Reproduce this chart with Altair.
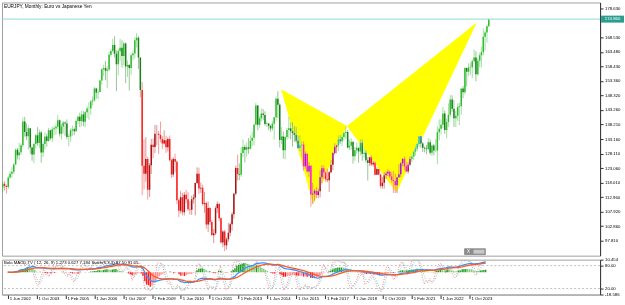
import altair as alt
import pandas as pd
import numpy as np

# ---------------- data (EURJPY monthly, Jun 2002 - Jul 2024) ----------------
FIRST_OPEN = 116.3
CLOSE = [
    117.6, 116.8, 116.5, 119.8, 121.1, 121.8, 124.3,
    129.4, 127.5, 128.6, 131.0, 139.3, 135.6, 134.1, 136.9, 130.2, 127.8, 131.4, 134.5,
    131.8, 135.4, 128.5, 131.4, 134.0, 132.5, 136.2, 133.4, 136.6, 136.9, 137.4, 139.7,
    135.0, 137.5, 138.9, 138.6, 133.9, 134.0, 136.2, 136.6, 135.9, 139.4, 140.9, 139.4,
    141.7, 139.2, 142.5, 143.8, 143.8, 146.2, 146.6, 150.7, 149.3, 149.5, 153.5, 157.4,
    157.9, 156.9, 157.3, 162.5, 163.8, 165.9, 162.8, 159.2, 163.7, 164.9, 162.0, 166.4,
    158.4, 158.9, 157.9, 162.3, 162.9, 167.5, 168.4, 161.5, 150.2, 123.9, 121.1, 126.2,
    115.5, 124.0, 131.2, 130.4, 135.0, 135.0, 134.6, 133.2, 131.6, 132.7, 130.3, 133.2,
    125.8, 120.8, 126.2, 125.3, 111.9, 108.2, 112.9, 107.7, 113.8, 112.2, 108.7, 108.6,
    112.2, 112.8, 117.9, 121.1, 116.0, 116.2, 110.6, 110.9, 103.4, 109.2, 104.3, 99.7,
    100.4, 109.1, 110.6, 105.6, 97.2, 101.0, 96.2, 98.3, 100.6, 103.5, 107.0, 114.1,
    123.1, 121.0, 120.7, 128.3, 130.4, 129.4, 130.3, 129.8, 132.6, 133.6, 138.1, 144.8,
    138.1, 140.4, 142.0, 141.5, 138.4, 138.6, 137.7, 136.8, 138.5, 140.7, 147.2, 145.1,
    132.8, 134.0, 129.3, 133.9, 136.3, 136.9, 135.9, 135.3, 134.6, 132.6, 130.0, 131.0,
    131.3, 123.7, 128.0, 121.9, 123.9, 113.9, 114.2, 115.2, 113.7, 115.0, 119.9, 123.0,
    121.5, 119.2, 118.8, 121.6, 124.2, 128.3, 130.4, 130.9, 133.0, 132.4, 133.9, 135.3,
    135.6, 130.2, 130.8, 132.2, 127.2, 129.3, 130.1, 128.8, 131.9, 128.0, 128.4, 125.8,
    124.8, 126.8, 124.3, 124.9, 120.7, 122.7, 120.8, 116.8, 118.0, 120.6, 121.2, 121.8,
    120.1, 118.9, 118.6, 117.1, 119.8, 120.9, 124.7, 126.3, 123.7, 121.9, 124.2, 126.2,
    127.1, 128.7, 129.9, 131.4, 134.1, 131.6, 130.1, 129.9, 129.6, 132.0, 128.4, 130.9,
    129.2, 129.2, 135.5, 136.7, 138.1, 142.0, 136.3, 139.1, 141.6, 146.9, 143.7, 140.4,
    141.3, 144.3, 144.6, 150.7, 149.4, 157.9, 156.6, 158.0, 158.1, 160.2, 161.5, 155.7,
    160.4, 162.3, 163.3, 168.7, 170.2, 172.4, 174.8,
]
HIGH = [
    118.3, 118.5, 117.3, 120.5, 122.0, 123.3, 124.8,
    129.9, 130.0, 131.8, 131.6, 140.6, 140.9, 138.6, 137.9, 137.0, 130.5, 131.9, 135.0,
    137.3, 136.5, 136.0, 132.3, 135.5, 135.0, 137.0, 136.4, 137.4, 137.8, 138.5, 141.6,
    140.0, 138.5, 139.4, 139.3, 140.0, 135.0, 136.9, 137.8, 137.2, 140.0, 141.3, 142.3,
    143.0, 142.8, 143.0, 144.6, 146.0, 146.7, 148.0, 151.2, 151.0, 150.5, 153.8, 157.8,
    159.0, 160.3, 158.5, 163.5, 164.5, 168.0, 168.9, 164.0, 164.5, 168.0, 167.5, 166.9,
    166.8, 160.5, 159.2, 163.1, 163.9, 168.5, 169.97, 168.9, 159.5, 153.0, 133.0, 133.8,
    127.0, 124.8, 133.2, 133.3, 138.1, 138.0, 136.0, 139.2, 134.2, 136.2, 134.3, 133.8,
    134.4, 126.4, 126.8, 128.1, 125.7, 112.4, 115.0, 114.5, 114.7, 115.5, 114.7, 111.6,
    113.5, 114.0, 118.0, 123.3, 123.2, 118.0, 117.3, 114.8, 111.4, 111.4, 109.5, 105.0,
    101.9, 109.8, 111.4, 111.0, 106.0, 101.4, 101.6, 99.0, 103.9, 104.2, 107.8, 114.4,
    123.9, 127.7, 124.7, 130.3, 133.0, 131.2, 132.0, 133.5, 134.5, 135.5, 138.5, 145.7,
    145.0, 141.0, 143.8, 143.6, 142.8, 139.3, 138.8, 138.2, 139.4, 140.9, 147.9, 149.8,
    145.6, 137.3, 135.8, 134.2, 137.0, 141.0, 138.9, 139.0, 137.7, 137.4, 134.4, 134.4,
    132.4, 132.4, 128.9, 128.2, 125.2, 124.0, 117.9, 115.7, 116.5, 116.0, 122.3, 124.1,
    124.1, 121.8, 122.9, 122.0, 125.8, 128.6, 131.7, 131.2, 134.4, 134.5, 134.5, 135.6,
    137.5, 136.2, 133.0, 133.5, 132.0, 130.4, 131.9, 130.0, 133.1, 133.1, 129.8, 129.3,
    126.9, 126.9, 127.5, 125.6, 125.4, 123.3, 122.6, 121.1, 119.9, 121.6, 122.0, 122.6,
    122.2, 121.6, 122.0, 121.1, 120.0, 124.4, 125.1, 126.4, 127.1, 125.1, 125.1, 127.1,
    127.5, 129.0, 130.7, 131.8, 134.1, 134.1, 132.1, 130.5, 131.1, 133.5, 133.0, 131.2,
    131.5, 133.2, 137.5, 140.0, 140.0, 144.3, 143.1, 140.3, 145.6, 148.4, 148.4, 146.7,
    142.9, 145.6, 145.7, 150.7, 151.6, 158.0, 158.0, 159.5, 159.8, 160.8, 164.3, 163.7,
    161.2, 163.2, 165.3, 171.6, 170.9, 173.0, 175.0,
]
LOW = [
    114.5, 115.3, 114.2, 115.8, 119.3, 119.7, 121.0,
    124.2, 126.1, 125.8, 127.6, 130.4, 134.0, 132.8, 129.5, 128.0, 125.6, 124.8, 129.8,
    130.8, 130.0, 124.9, 126.9, 129.5, 130.5, 132.2, 132.8, 132.1, 134.5, 134.7, 136.5,
    134.0, 133.0, 135.0, 134.3, 133.0, 130.7, 132.2, 134.3, 134.5, 135.8, 138.4, 137.3,
    137.7, 137.6, 137.3, 140.5, 139.9, 141.6, 144.8, 146.3, 147.2, 147.0, 149.5, 152.0,
    155.0, 153.6, 150.8, 156.8, 161.8, 163.2, 161.5, 149.8, 155.3, 160.3, 158.0, 158.8,
    152.6, 154.7, 150.0, 155.5, 160.5, 161.2, 165.0, 157.6, 147.7, 113.6, 115.6, 118.3,
    112.1, 113.0, 121.0, 126.5, 128.3, 131.0, 128.0, 132.0, 129.6, 131.3, 128.3, 128.8,
    125.4, 119.6, 120.0, 121.5, 110.5, 106.0, 107.2, 106.6, 106.6, 110.8, 108.2, 106.8,
    106.8, 110.7, 106.6, 117.5, 114.0, 114.4, 110.0, 107.5, 102.0, 100.8, 103.3, 99.8,
    97.0, 99.8, 107.5, 104.6, 96.8, 95.6, 94.1, 94.7, 97.4, 99.3, 101.3, 105.5,
    113.6, 118.7, 118.9, 120.0, 126.8, 125.0, 127.0, 128.0, 129.5, 130.7, 131.0, 139.0,
    136.2, 137.2, 139.3, 139.7, 137.8, 137.3, 136.2, 135.7, 136.0, 133.0, 139.5, 140.5,
    130.2, 131.5, 126.3, 126.1, 132.9, 133.4, 133.0, 130.5, 132.2, 131.8, 129.7, 128.8,
    126.8, 122.1, 122.8, 121.5, 120.0, 109.6, 110.6, 111.7, 112.6, 112.6, 112.9, 117.8,
    119.3, 118.3, 118.1, 114.8, 121.2, 122.4, 127.8, 128.2, 128.9, 131.4, 130.7, 132.7,
    133.1, 129.9, 129.3, 129.3, 124.6, 125.6, 128.0, 124.9, 127.5, 125.6, 126.6, 125.0,
    118.7, 123.8, 123.8, 123.6, 120.6, 120.8, 120.5, 116.0, 115.9, 115.9, 119.3, 120.3,
    119.5, 118.0, 114.4, 114.4, 114.4, 119.9, 119.9, 123.6, 122.4, 121.6, 121.1, 123.9,
    125.1, 125.8, 127.3, 128.9, 130.4, 130.1, 128.6, 128.5, 127.9, 129.5, 127.7, 127.3,
    127.5, 128.5, 124.4, 132.7, 134.8, 136.9, 135.0, 133.4, 137.4, 140.9, 142.6, 137.4,
    137.4, 139.4, 138.0, 141.6, 147.4, 148.7, 151.4, 155.0, 155.5, 154.4, 159.8, 153.2,
    155.1, 158.1, 158.1, 162.3, 164.0, 166.7, 172.3,
]

TITLE = "EURJPY, Monthly: Euro vs Japanese Yen"
IND_TITLE = "Bolo MACD TV ( 12, 26, 9) 1.273 0.627 7.184 Stoch(5,3,3) 97.50 91.65"
PRICE_TICKS = [178.63, 168.53, 163.48, 158.43, 153.36, 148.32, 143.26, 138.21,
               133.16, 128.11, 123.06, 118.01, 112.96, 107.92, 102.86, 97.81]
CURRENT_PRICE = 174.86
X_TICKS = [(2002, 6), (2003, 10), (2005, 2), (2006, 6), (2007, 10), (2009, 2),
           (2010, 6), (2011, 10), (2013, 2), (2014, 6), (2015, 10), (2017, 2),
           (2018, 6), (2019, 10), (2021, 2), (2022, 6), (2023, 10)]
PATTERN_DATES = ["2015-01-24", "2016-07-11", "2018-01-20", "2020-04-21", "2023-12-15"]
PATTERN_PRICES = [150.5, 110.5, 137.7, 114.55, 173.7]
MACD_RANGE = [-18.586, 10.454]
STOCH_LEVELS = [80, 20]
HIST_FACTOR = 2  # Bolo-style histogram: 2 x (MACD - signal)

FONT = "Liberation Sans"

# ---------------- derived table ----------------
n = len(CLOSE)
dates = pd.date_range("2002-06-01", periods=n, freq="MS")
df = pd.DataFrame({"date": dates, "open": [FIRST_OPEN] + CLOSE[:-1],
                   "close": CLOSE, "high": HIGH, "low": LOW})
df["high"] = df[["high", "open", "close"]].max(axis=1)
df["low"] = df[["low", "open", "close"]].min(axis=1)

ema12 = df["close"].ewm(span=12, adjust=False).mean()
ema26 = df["close"].ewm(span=26, adjust=False).mean()
df["macd"] = ema12 - ema26
df["signal"] = df["macd"].ewm(span=9, adjust=False).mean()
df["hist"] = HIST_FACTOR * (df["macd"] - df["signal"])

up = (df["close"] >= df["open"]).to_numpy()
pos = (df["macd"] >= 0).to_numpy()
df["col"] = np.select([pos & up, pos & ~up, ~pos & ~up, ~pos & up],
                      ["#2dbd2d", "#1a7f1a", "#ff1c1c", "#a51515"], default="#2dbd2d")
rising = (df["hist"].diff().fillna(0) >= 0).to_numpy()
hp = (df["hist"] >= 0).to_numpy()
df["hcol"] = np.select([hp & rising, hp & ~rising, ~hp & ~rising, ~hp & rising],
                       ["#1f9e1f", "#7fcf7f", "#ff1a1a", "#ff8c8c"], default="#1f9e1f")

ll = df["low"].rolling(5).min()
hh = df["high"].rolling(5).max()
df["k"] = (df["close"] - ll).rolling(3).sum() / (hh - ll).rolling(3).sum() * 100
df["d"] = df["k"].rolling(3).mean()

pat = pd.DataFrame({
    "leg": ["XAB"] * 4 + ["BCD"] * 4,
    "ord": [0, 1, 2, 3, 0, 1, 2, 3],
    "date": pd.to_datetime([PATTERN_DATES[i] for i in [0, 1, 2, 0, 2, 3, 4, 2]]),
    "price": [PATTERN_PRICES[i] for i in [0, 1, 2, 0, 2, 3, 4, 2]],
})

cur = pd.DataFrame({"p": [CURRENT_PRICE], "lbl": [f"{CURRENT_PRICE:.3f}"]})
levels = pd.DataFrame({"lv": STOCH_LEVELS})

# ---------------- scales ----------------
xscale = alt.Scale(domain=[alt.DateTime(year=2002, month=5, date=20),
                           alt.DateTime(year=2029, month=7, date=22)])
yscale = alt.Scale(domain=[92.6, 180.65], nice=False, zero=False)
W = 600

# ---------------- main panel ----------------
base = alt.Chart(df)
yaxis = alt.Axis(orient="right", values=PRICE_TICKS, format=".3f",
                 labelOverlap=False, labelBound=False, grid=False)
wick = base.mark_rule(strokeWidth=1, opacity=0.45, clip=True).encode(
    x=alt.X("date:T", scale=xscale, axis=None, title=None),
    y=alt.Y("low:Q", scale=yscale, title=None, axis=yaxis),
    y2="high:Q",
    color=alt.Color("col:N", scale=None),
)
body = base.mark_rule(strokeWidth=1.5, clip=True).encode(
    x=alt.X("date:T", scale=xscale, axis=None, title=None),
    y=alt.Y("open:Q", scale=yscale, title=None, axis=yaxis),
    y2="close:Q",
    color=alt.Color("col:N", scale=None),
)
priceline = alt.Chart(cur).mark_rule(color="#8fdccf", strokeWidth=1).encode(
    y=alt.Y("p:Q", scale=yscale, title=None, axis=yaxis))
tri = alt.Chart(pat).mark_line(fill="#0000ff", stroke="#0000ff", strokeOpacity=0,
                               blend="difference").encode(
    x=alt.X("date:T", scale=xscale, axis=None, title=None),
    y=alt.Y("price:Q", scale=yscale, title=None, axis=yaxis),
    order="ord:Q",
    detail="leg:N",
)
plabel_bg = alt.Chart(cur).mark_rect(height=7, color="#2a9d8f").encode(
    x=alt.value(601), x2=alt.value(624),
    y=alt.Y("p:Q", scale=yscale, title=None, axis=yaxis))
plabel = alt.Chart(cur).mark_text(color="white", fontSize=4.3, font=FONT,
                                  align="center", baseline="middle").encode(
    x=alt.value(612.5), y=alt.Y("p:Q", scale=yscale, title=None, axis=yaxis), text="lbl:N")
title = alt.Chart(pd.DataFrame({"t": [TITLE]})).mark_text(
    align="left", baseline="top", fontSize=4.8, font=FONT, color="black").encode(
    x=alt.value(2), y=alt.value(2), text="t:N")

# small one-click buttons drawn by the terminal at the bottom of the price pane
btn = pd.DataFrame({"t": ["X"]})
btn_bg = alt.Chart(btn).mark_rect(color="#8c8c8c", stroke="#6a6a6a", strokeWidth=0.5).encode(
    x=alt.value(464), x2=alt.value(485), y=alt.value(247), y2=alt.value(253))
btn_in = alt.Chart(btn).mark_rect(color="#c8c8c8").encode(
    x=alt.value(473), x2=alt.value(484), y=alt.value(248), y2=alt.value(252))
btn_tx = alt.Chart(btn).mark_text(fontSize=4.5, font=FONT, color="white",
                                  align="center", baseline="middle").encode(
    x=alt.value(468), y=alt.value(250.2), text="t:N")

main = alt.layer(wick, body, priceline, tri, plabel_bg, plabel, title,
                 btn_bg, btn_in, btn_tx).properties(width=W, height=254)

# ---------------- indicator panel ----------------
sscale = alt.Scale(domain=[4.35, 95.65], nice=False, zero=False)
mscale = alt.Scale(domain=MACD_RANGE, nice=False, zero=False)
m80 = MACD_RANGE[1] - (95.65 - 80) / 91.3 * (MACD_RANGE[1] - MACD_RANGE[0])
m20 = MACD_RANGE[1] - (95.65 - 20) / 91.3 * (MACD_RANGE[1] - MACD_RANGE[0])

xaxis = alt.Axis(values=[alt.DateTime(year=y, month=m, date=1) for y, m in X_TICKS],
                 format="%-d %b %Y", labelAlign="left", labelOffset=1.5,
                 labelOverlap=False, labelBound=False, labelFlush=False, grid=False,
                 tickSize=4, labelPadding=-2.5, domainColor="#a0a0a0")
maxis = alt.Axis(orient="right", values=[MACD_RANGE[1], m80, m20, MACD_RANGE[0]],
                 labelExpr=("datum.value > 10 ? '10.454' : datum.value > 0 ? '80.00' : "
                            "datum.value > -15 ? '20.00' : '-18.586'"),
                 labelOverlap=False, labelBound=False, grid=False)

lv = alt.Chart(levels).mark_rule(color="#b0b0b0", strokeDash=[2, 2], strokeWidth=0.8).encode(
    y=alt.Y("lv:Q", scale=sscale, axis=None, title=None))
kline = base.mark_line(color="#ff8080", strokeDash=[1, 1.5], strokeWidth=1, clip=True).encode(
    x=alt.X("date:T", scale=xscale, title=None, axis=xaxis),
    y=alt.Y("k:Q", scale=sscale, axis=None, title=None))
dline = base.mark_line(color="#6fd0d8", strokeDash=[1, 1.5], strokeWidth=1, clip=True).encode(
    x=alt.X("date:T", scale=xscale, title=None, axis=xaxis),
    y=alt.Y("d:Q", scale=sscale, axis=None, title=None))
stoch = alt.layer(lv, kline, dline)

hist = base.mark_bar(width=1.4, clip=True).encode(
    x=alt.X("date:T", scale=xscale, title=None, axis=xaxis),
    y=alt.Y("hist:Q", scale=mscale, title=None, axis=maxis),
    y2=alt.datum(0),
    color=alt.Color("hcol:N", scale=None),
)
macd = base.mark_line(color="#3d8fff", strokeWidth=1.3, clip=True).encode(
    x=alt.X("date:T", scale=xscale, title=None, axis=xaxis),
    y=alt.Y("macd:Q", scale=mscale, title=None, axis=maxis))
sig = base.mark_line(color="#ff5a1f", strokeWidth=1.3, clip=True).encode(
    x=alt.X("date:T", scale=xscale, title=None, axis=xaxis),
    y=alt.Y("signal:Q", scale=mscale, title=None, axis=maxis))
ititle = alt.Chart(pd.DataFrame({"t": [IND_TITLE]})).mark_text(
    align="left", baseline="top", fontSize=4.3, font=FONT, color="black").encode(
    x=alt.value(2), y=alt.value(1), text="t:N")
macd_group = alt.layer(hist, macd, sig, ititle)

ind = alt.layer(stoch, macd_group).resolve_scale(y="independent").properties(
    width=W, height=35)

chart = alt.vconcat(main, ind, spacing=0).resolve_scale(y="independent").properties(
    padding={"left": 1, "top": 1, "right": 0, "bottom": 0}, background="white"
).configure_view(stroke="#a0a0a0", fill="white").configure_axis(
    labelFont=FONT, labelFontSize=4.3, labelColor="#000000", tickColor="#333333",
    domainColor="#333333", tickSize=3, labelPadding=1.5, labelOverlap=False,
    labelBound=False
).configure_concat(spacing=0)

chart.save("out.html", embed_options={"renderer": "svg", "actions": False})
